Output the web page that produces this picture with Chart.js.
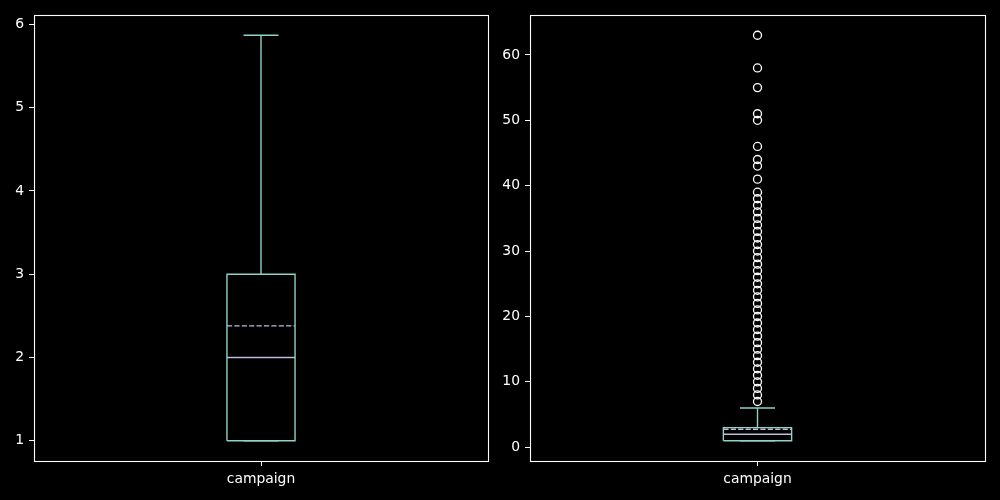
<!DOCTYPE html>
<html>
<head>
<meta charset="utf-8">
<script src="https://cdn.jsdelivr.net/npm/chart.js@4"></script>
<style>
  html, body { margin: 0; padding: 0; background: #000; }
  #wrap { position: relative; width: 1000px; height: 500px; background: #000; }
  .pane { position: absolute; top: 0; width: 500px; height: 500px; }
  #p1 { left: 0; } #p2 { left: 500px; }
</style>
</head>
<body>
<div id="wrap">
  <div class="pane" id="p1"><canvas id="c1" width="500" height="500"></canvas></div>
  <div class="pane" id="p2"><canvas id="c2" width="500" height="500"></canvas></div>
</div>
<script>
// ---- data ----
const categories = ["campaign"];

// left panel: boxplot without fliers
const leftStats = { whiskerLow: 1, q1: 1, median: 2, q3: 3, whiskerHigh: 5.87, mean: 2.38 };
const leftTicks = [1, 2, 3, 4, 5, 6];

// right panel: boxplot with fliers
const rightStats = { whiskerLow: 1, q1: 1, median: 2, q3: 3, whiskerHigh: 6, mean: 2.76 };
const rightOutliers = [7, 8, 9, 10, 11, 12, 13, 14, 15, 16, 17, 18, 19, 20, 21, 22, 23, 24, 25, 26,
  27, 28, 29, 30, 31, 32, 33, 34, 35, 36, 37, 38, 39, 41, 43, 44, 46, 50, 51, 55, 58, 63];
const rightTicks = [0, 10, 20, 30, 40, 50, 60];

// ---- styles ----
const BOX_COLOR = '#8dd3c7';
const MED_COLOR = '#bfbbd9';
const LW = 1.39;
const FONT = { family: 'DejaVu Sans', size: 13.9 };
Chart.defaults.font.family = 'DejaVu Sans';
Chart.defaults.color = '#ffffff';

const BOX_HALF = 0.075;   // half box width (x units)
const CAP_HALF = 0.0385;  // half cap width

function seg(data, color, dash, order) {
  return { type: 'scatter', data, showLine: true, borderColor: color, borderWidth: LW,
           borderDash: dash || [], pointRadius: 0, pointHoverRadius: 0, fill: false,
           order: order, borderCapStyle: 'butt' };
}

function buildDatasets(s, outliers) {
  const x = 1;
  const ds = [];
  ds.push(seg([{x, y: s.q1}, {x, y: s.whiskerLow}], BOX_COLOR, null, 6));
  ds.push(seg([{x, y: s.q3}, {x, y: s.whiskerHigh}], BOX_COLOR, null, 6));
  ds.push(seg([{x: x - CAP_HALF, y: s.whiskerLow}, {x: x + CAP_HALF, y: s.whiskerLow}], BOX_COLOR, null, 5));
  ds.push(seg([{x: x - CAP_HALF, y: s.whiskerHigh}, {x: x + CAP_HALF, y: s.whiskerHigh}], BOX_COLOR, null, 5));
  ds.push(seg([{x: x - BOX_HALF, y: s.q1}, {x: x + BOX_HALF, y: s.q1}, {x: x + BOX_HALF, y: s.q3},
               {x: x - BOX_HALF, y: s.q3}, {x: x - BOX_HALF, y: s.q1}], BOX_COLOR, null, 4));
  ds.push(seg([{x: x - BOX_HALF, y: s.median}, {x: x + BOX_HALF, y: s.median}], MED_COLOR, null, 3));
  if (outliers) {
    ds.push({ type: 'scatter', data: outliers.map(v => ({x, y: v})), showLine: false,
              pointRadius: 4, pointHoverRadius: 4, pointBorderWidth: 1.3,
              pointBorderColor: '#ffffff', pointBackgroundColor: 'rgba(0,0,0,0)', order: 2 });
  }
  ds.push(seg([{x: x - BOX_HALF, y: s.mean}, {x: x + BOX_HALF, y: s.mean}], MED_COLOR, [5.2, 2.2], 1));
  return ds;
}

const framePlugin = {
  id: 'frame',
  afterDatasetsDraw(chart) {
    const a = chart.chartArea, ctx = chart.ctx;
    ctx.save();
    ctx.strokeStyle = '#ffffff';
    ctx.lineWidth = 1.1;
    ctx.strokeRect(Math.round(a.left) + 0.5, Math.round(a.top) + 0.5,
                   Math.round(a.right - a.left), Math.round(a.bottom - a.top));
    ctx.restore();
  }
};

function makeChart(canvasId, stats, outliers, ticks, yAxisWidth, padRight) {
  const lo = Math.min(stats.whiskerLow, ...(outliers || []));
  const hi = Math.max(stats.whiskerHigh, ...(outliers || []));
  const margin = (hi - lo) * 0.05;
  return new Chart(document.getElementById(canvasId), {
    data: { datasets: buildDatasets(stats, outliers) },
    plugins: [framePlugin],
    options: {
      responsive: false,
      animation: false,
      devicePixelRatio: 1,
      layout: { padding: { left: 0, top: 15, right: padRight, bottom: 0 } },
      plugins: { legend: { display: false }, tooltip: { enabled: false } },
      events: [],
      scales: {
        x: {
          type: 'linear', min: 0.5, max: 1.5,
          afterBuildTicks: (sc) => { sc.ticks = [{ value: 1 }]; },
          afterFit: (sc) => { sc.height = 39; },
          ticks: { callback: () => categories[0], font: FONT, color: '#ffffff', padding: 5,
                   maxRotation: 0, autoSkip: false },
          grid: { display: true, drawOnChartArea: false, drawTicks: true, tickLength: 5,
                  color: '#ffffff', lineWidth: 1 },
          border: { display: false }
        },
        y: {
          type: 'linear', min: lo - margin, max: hi + margin,
          afterBuildTicks: (sc) => { sc.ticks = ticks.map(v => ({ value: v })); },
          afterFit: (sc) => { sc.width = yAxisWidth; },
          ticks: { font: FONT, color: '#ffffff', padding: 5, autoSkip: false },
          grid: { display: true, drawOnChartArea: false, drawTicks: true, tickLength: 5,
                  color: '#ffffff', lineWidth: 1 },
          border: { display: false }
        }
      }
    }
  });
}

makeChart('c1', leftStats, null, leftTicks, 34, 12);
makeChart('c2', rightStats, rightOutliers, rightTicks, 30, 15);
</script>
</body>
</html>
